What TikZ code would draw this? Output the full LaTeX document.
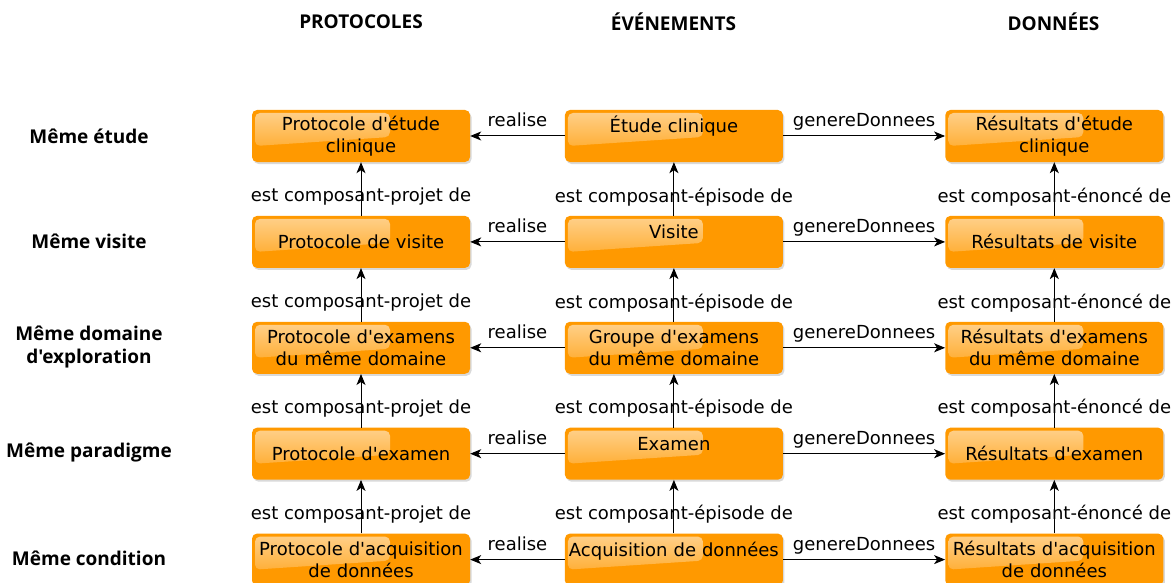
\documentclass[tikz,border=0pt]{standalone}
\usepackage{fontspec}
\newfontfamily\boitefont{DejaVu Sans}
\newfontfamily\titrefont{Open Sans}
\usetikzlibrary{positioning,shadows,arrows.meta}

\definecolor{orangeboite}{RGB}{255,153,0}

\tikzset{
  etat/.style={fill=orangeboite, rounded corners=5pt, minimum width=218pt,
    minimum height=52pt, text width=212pt, inner xsep=3pt, align=center,
    font=\boitefont\fontsize{18}{22}\selectfont,
    drop shadow={opacity=0.3, shadow xshift=1.5pt, shadow yshift=-2pt},
    path picture={
      \shade[top color=orangeboite!45!white, bottom color=orangeboite!92!white, rounded corners=5pt]
        ([xshift=3pt, yshift=-3pt]path picture bounding box.north west)
        -- ([xshift=138pt, yshift=-3pt]path picture bounding box.north west)
        -- ([xshift=138pt, yshift=-27pt]path picture bounding box.north west)
        -- ([xshift=3pt, yshift=-36pt]path picture bounding box.north west) -- cycle;
    }},
  haut/.style={text height=13pt, text depth=20pt},
  lien/.style={-{Stealth[length=11pt, width=9pt, inset=3pt]}, line width=1pt},
  lbl/.style={font=\boitefont\fontsize{18}{22}\selectfont, text depth=4pt, inner sep=2pt},
  hlbl/.style={lbl, above=3pt, midway},
  vlbl/.style={lbl, pos=.35},
  titre/.style={font=\titrefont\bfseries\fontsize{19}{23}\selectfont, align=center}
}

\begin{document}
\begin{tikzpicture}[x=1pt, y=-1pt, node distance=53.5pt and 94.5pt]
  \useasboundingbox (0,0) rectangle (1172,583);

  \node[titre] (tProt) at (361,22) {PROTOCOLES};
  \node[titre] (tEven) at (673.5,22) {ÉVÉNEMENTS};
  \node[titre] (tDonn) at (1053.5,22) {DONNÉES};

  \node[etat] (pEtude) at (361,136) {Protocole d'étude\\clinique};
  \node[etat, haut, right=of pEtude] (eEtude) {Étude clinique};
  \node[etat, right=162pt of eEtude] (dEtude) {Résultats d'étude\\clinique};

  \node[etat, below=of pEtude] (pVisite) {Protocole de visite};
  \node[etat, haut, below=of eEtude] (eVisite) {Visite};
  \node[etat, below=of dEtude] (dVisite) {Résultats de visite};

  \node[etat, below=of pVisite] (pDomaine) {Protocole d'examens\\du même domaine};
  \node[etat, below=of eVisite] (eDomaine) {Groupe d'examens\\du même domaine};
  \node[etat, below=of dVisite] (dDomaine) {Résultats d'examens\\du même domaine};

  \node[etat, below=of pDomaine] (pExamen) {Protocole d'examen};
  \node[etat, haut, below=of eDomaine] (eExamen) {Examen};
  \node[etat, below=of dDomaine] (dExamen) {Résultats d'examen};

  \node[etat, below=of pExamen] (pAcqui) {Protocole d'acquisition\\de données};
  \node[etat, haut, below=of eExamen] (eAcqui) {Acquisition de données};
  \node[etat, below=of dExamen] (dAcqui) {Résultats d'acquisition\\de données};

  \node[titre] (rEtude) at (89,136) {Même étude};
  \node[titre] (rVisite) at (89,241.5) {Même visite};
  \node[titre] (rDomaine) at (89,347) {Même domaine\\d'exploration};
  \node[titre] (rParadigme) at (89,452.5) {Même paradigme};
  \node[titre] (rCondition) at (89,558) {Même condition};

  \draw[lien] (eEtude) -- node[hlbl] {realise} (pEtude);
  \draw[lien] (eEtude) -- node[hlbl] {genereDonnees} (dEtude);
  \draw[lien] (eVisite) -- node[hlbl] {realise} (pVisite);
  \draw[lien] (eVisite) -- node[hlbl] {genereDonnees} (dVisite);
  \draw[lien] (eDomaine) -- node[hlbl] {realise} (pDomaine);
  \draw[lien] (eDomaine) -- node[hlbl] {genereDonnees} (dDomaine);
  \draw[lien] (eExamen) -- node[hlbl] {realise} (pExamen);
  \draw[lien] (eExamen) -- node[hlbl] {genereDonnees} (dExamen);
  \draw[lien] (eAcqui) -- node[hlbl] {realise} (pAcqui);
  \draw[lien] (eAcqui) -- node[hlbl] {genereDonnees} (dAcqui);

  \draw[lien] (pVisite) -- node[vlbl] {est composant-projet de} (pEtude);
  \draw[lien] (pDomaine) -- node[vlbl] {est composant-projet de} (pVisite);
  \draw[lien] (pExamen) -- node[vlbl] {est composant-projet de} (pDomaine);
  \draw[lien] (pAcqui) -- node[vlbl] {est composant-projet de} (pExamen);

  \draw[lien] (eVisite) -- node[vlbl] {est composant-épisode de} (eEtude);
  \draw[lien] (eDomaine) -- node[vlbl] {est composant-épisode de} (eVisite);
  \draw[lien] (eExamen) -- node[vlbl] {est composant-épisode de} (eDomaine);
  \draw[lien] (eAcqui) -- node[vlbl] {est composant-épisode de} (eExamen);

  \draw[lien] (dVisite) -- node[vlbl] {est composant-énoncé de} (dEtude);
  \draw[lien] (dDomaine) -- node[vlbl] {est composant-énoncé de} (dVisite);
  \draw[lien] (dExamen) -- node[vlbl] {est composant-énoncé de} (dDomaine);
  \draw[lien] (dAcqui) -- node[vlbl] {est composant-énoncé de} (dExamen);
\end{tikzpicture}
\end{document}
